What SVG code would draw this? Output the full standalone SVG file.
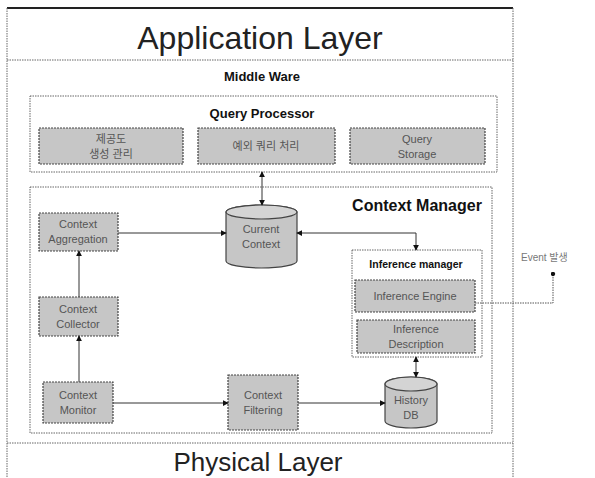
<svg xmlns="http://www.w3.org/2000/svg" width="595" height="478" viewBox="0 0 595 478">
<defs>
<style>
.frame{fill:none;stroke:#666;stroke-width:1;stroke-dasharray:1.5,1}
.box{fill:#c6c6c6;stroke:#444;stroke-width:1.2;stroke-dasharray:2,1}
.cyl{fill:#c6c6c6;stroke:#444;stroke-width:1.2}
.t{font-family:"Liberation Sans",Arial,sans-serif;fill:#222;text-anchor:middle}
.bt{font-family:"Liberation Sans",Arial,sans-serif;font-weight:bold;fill:#111;text-anchor:middle}
.in{font-family:"Liberation Sans","Noto Sans CJK KR",Arial,sans-serif;font-size:11px;fill:#555;text-anchor:middle}
.c{fill:none;stroke:#333;stroke-width:1}
.cd{fill:none;stroke:#555;stroke-width:1;stroke-dasharray:1.5,1}
</style>
<marker id="ah" viewBox="0 0 8 8" refX="7" refY="4" markerWidth="6" markerHeight="6" orient="auto-start-reverse">
<path d="M0,0 L8,4 L0,8 z" fill="#111"/>
</marker>
<marker id="dot" viewBox="0 0 6 6" refX="3" refY="3" markerWidth="5" markerHeight="5">
<circle cx="3" cy="3" r="2.6" fill="#111"/>
</marker>
</defs>

<g id="outer-frame">
<line x1="7" y1="8" x2="513" y2="8" stroke="#222" stroke-width="2"/>
<line class="frame" x1="7" y1="8" x2="7" y2="478"/>
<line class="frame" x1="513" y1="8" x2="513" y2="478"/>
<line class="frame" x1="7" y1="60" x2="513" y2="60"/>
<line class="frame" x1="7" y1="443" x2="513" y2="443"/>
<text class="t" x="260" y="49" font-size="32">Application Layer</text>
<text class="bt" x="262" y="81" font-size="13">Middle Ware</text>
<text class="t" x="258" y="471" font-size="26">Physical Layer</text>
</g>

<g id="query-processor">
<rect class="frame" x="30" y="96" width="467" height="76"/>
<text class="bt" x="262" y="118" font-size="13">Query Processor</text>
</g>
<g id="qp-box1">
<rect class="box" x="39" y="128" width="144" height="36"/>
<text class="in" x="111" y="143">제공도</text>
<text class="in" x="111" y="158">생성 관리</text>
</g>
<g id="qp-box2">
<rect class="box" x="198" y="128" width="137" height="36"/>
<text class="in" x="266" y="150">예외 쿼리 처리</text>
</g>
<g id="query-storage">
<rect class="box" x="350" y="128" width="135" height="36"/>
<text class="in" x="417" y="143">Query</text>
<text class="in" x="417" y="158">Storage</text>
</g>

<g id="context-manager">
<rect class="frame" x="30" y="187" width="462" height="246"/>
<text class="bt" x="417" y="211" font-size="16">Context Manager</text>
</g>

<g id="current-context">
<path class="cyl" d="M226,212 L226,261 A35.5,7 0 0 0 297,261 L297,212 A35.5,7 0 0 0 226,212 Z"/>
<ellipse cx="261.5" cy="212" rx="35.5" ry="7" fill="#d4d4d4" stroke="#444" stroke-width="1.2"/>
<text class="in" x="261" y="233">Current</text>
<text class="in" x="261" y="248">Context</text>
</g>

<g id="context-aggregation">
<rect class="box" x="39" y="213" width="79" height="38"/>
<text class="in" x="78" y="228">Context</text>
<text class="in" x="78" y="243">Aggregation</text>
</g>

<g id="context-collector">
<rect class="box" x="39" y="297" width="79" height="39"/>
<text class="in" x="78" y="313">Context</text>
<text class="in" x="78" y="328">Collector</text>
</g>

<g id="context-monitor">
<rect class="box" x="43" y="382" width="70" height="41"/>
<text class="in" x="78" y="399">Context</text>
<text class="in" x="78" y="414">Monitor</text>
</g>

<g id="context-filtering">
<rect class="box" x="228" y="375" width="70" height="55"/>
<text class="in" x="263" y="399">Context</text>
<text class="in" x="263" y="414">Filtering</text>
</g>

<g id="history-db">
<path class="cyl" d="M385,384 L385,421 A26,7 0 0 0 437,421 L437,384 A26,7 0 0 0 385,384 Z"/>
<ellipse cx="411" cy="384" rx="26" ry="7" fill="#d4d4d4" stroke="#444" stroke-width="1.2"/>
<text class="in" x="411" y="404">History</text>
<text class="in" x="411" y="419">DB</text>
</g>

<g id="inference-manager">
<rect class="frame" x="352" y="250" width="130" height="107" stroke="#444"/>
<text class="bt" x="416" y="268" font-size="10.5">Inference manager</text>
</g>
<g id="inference-engine">
<rect class="box" x="355" y="280" width="120" height="32"/>
<text class="in" x="415" y="300">Inference Engine</text>
</g>
<g id="inference-description">
<rect class="box" x="357" y="320" width="118" height="33"/>
<text class="in" x="416" y="333">Inference</text>
<text class="in" x="416" y="348">Description</text>
</g>

<g id="event-label">
<text x="521" y="261" font-family="'Liberation Sans','Noto Sans CJK KR',sans-serif" font-size="10" fill="#777">Event 발생</text>
</g>

<g id="connectors">
<line class="c" x1="262" y1="172" x2="262" y2="205" marker-start="url(#ah)" marker-end="url(#ah)"/>
<line class="c" x1="118" y1="233" x2="226" y2="233" marker-end="url(#ah)"/>
<polyline class="c" points="297,233 416,233 416,250" marker-start="url(#ah)" marker-end="url(#ah)"/>
<line class="c" x1="79" y1="297" x2="79" y2="251" marker-end="url(#ah)"/>
<line class="c" x1="79" y1="382" x2="79" y2="336" marker-end="url(#ah)"/>
<line class="c" x1="113" y1="403" x2="228" y2="403" marker-end="url(#ah)"/>
<line class="c" x1="298" y1="403" x2="385" y2="403" marker-end="url(#ah)"/>
<line class="c" x1="416" y1="357" x2="416" y2="377" marker-start="url(#ah)" marker-end="url(#ah)"/>
<polyline class="cd" points="475,303 553,303 553,274" marker-end="url(#dot)"/>
</g>
</svg>
